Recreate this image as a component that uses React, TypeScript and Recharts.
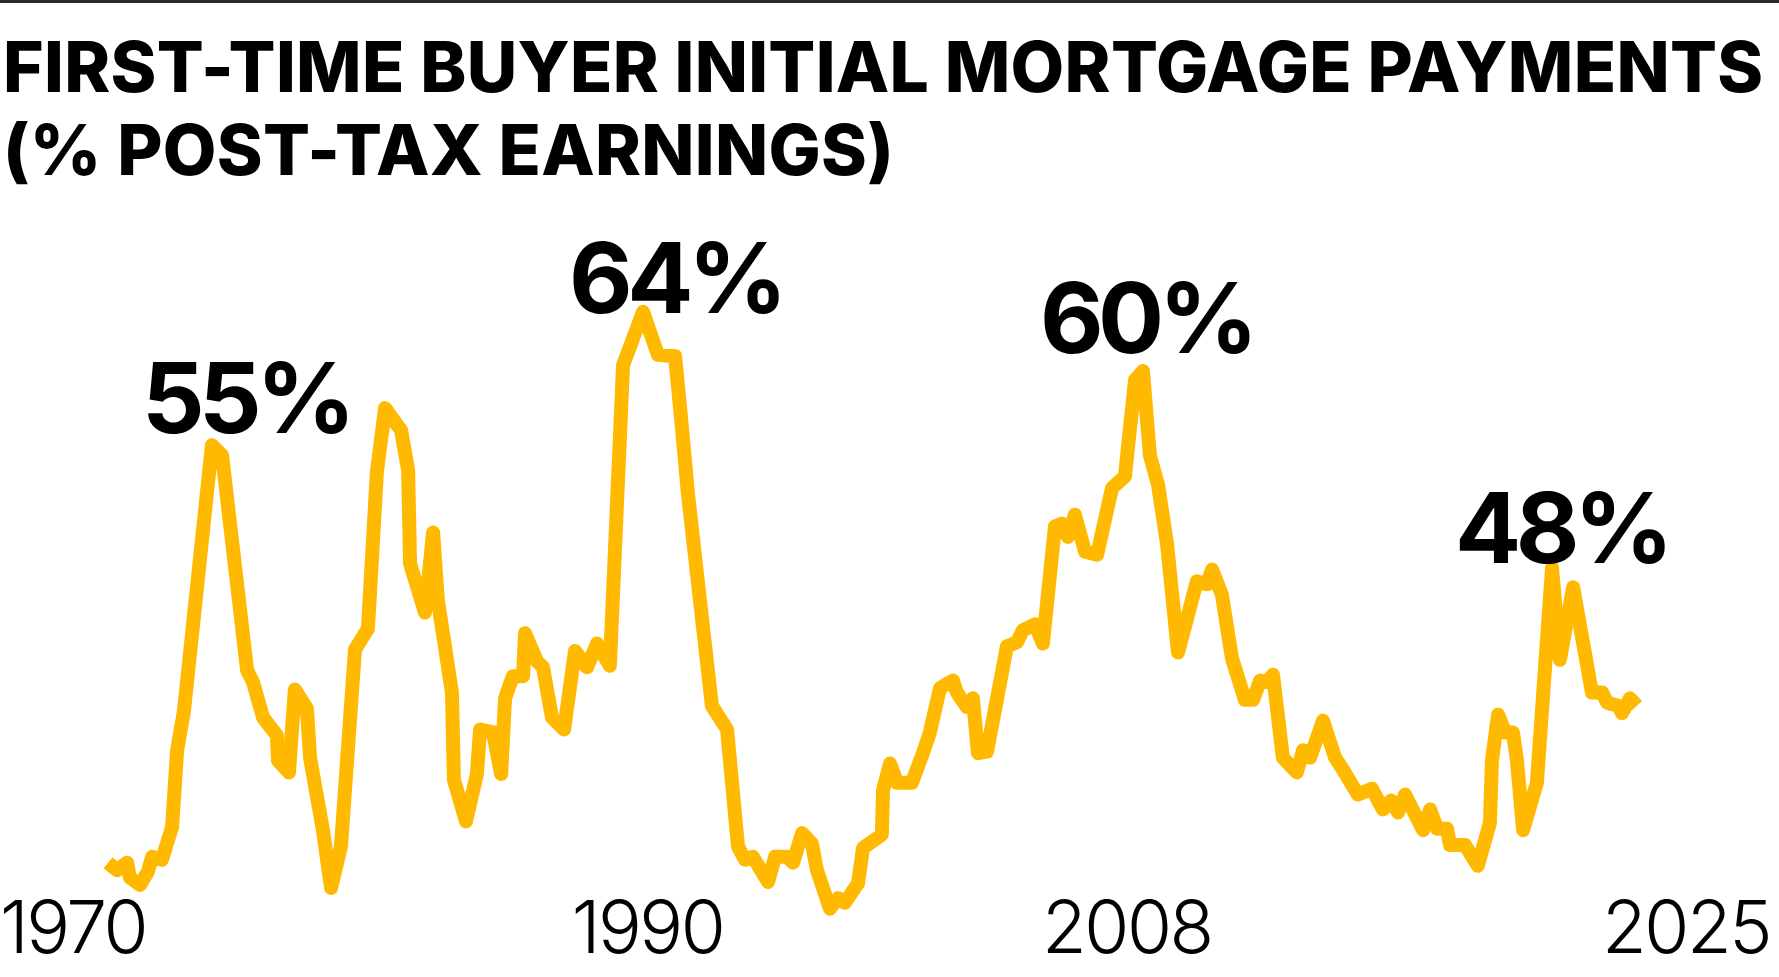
import React from "react";
import { LineChart, Line, XAxis, YAxis, ReferenceDot } from "recharts";

// Quarter-ish turning points (year, % of post-tax earnings)
const years = [
  1970.0, 1970.32, 1970.68, 1970.78, 1971.14, 1971.42, 1971.57, 1971.92, 1972.28, 1972.46,
  1972.7, 1973.7, 1974.06, 1974.95, 1975.16, 1975.52, 1976.01, 1976.05, 1976.44, 1976.65,
  1977.08, 1977.19, 1977.65, 1977.94, 1978.29, 1978.79, 1979.25, 1979.57, 1979.86, 1980.43,
  1980.68, 1980.75, 1981.28, 1981.57, 1981.74, 1982.24, 1982.31, 1982.74, 1983.13, 1983.24,
  1983.7, 1983.99, 1984.13, 1984.41, 1984.77, 1984.84, 1985.27, 1985.48, 1985.8, 1986.23,
  1986.62, 1987.05, 1987.4, 1987.86, 1988.33, 1989.04, 1989.57, 1990.18, 1990.43, 1990.64,
  1991.49, 1992.03, 1992.42, 1992.67, 1992.95, 1993.49, 1993.74, 1994.16, 1994.38, 1994.7,
  1995.05, 1995.23, 1995.69, 1995.98, 1996.23, 1996.69, 1996.87, 1997.54, 1997.58, 1997.83,
  1998.08, 1998.61, 1999.0, 1999.25, 1999.61, 2000.07, 2000.21, 2000.57, 2000.78, 2000.96,
  2001.28, 2001.99, 2002.35, 2002.56, 2002.99, 2003.27, 2003.7, 2003.95, 2004.16, 2004.41,
  2004.77, 2005.2, 2005.73, 2006.19, 2006.55, 2006.83, 2007.08, 2007.37, 2007.69, 2008.08,
  2008.75, 2009.11, 2009.29, 2009.64, 2010.0, 2010.46, 2010.75, 2011.0, 2011.25, 2011.46,
  2011.81, 2012.31, 2012.53, 2012.78, 2013.24, 2013.67, 2013.91, 2014.48, 2014.98, 2015.37,
  2015.66, 2015.91, 2016.16, 2016.8, 2017.05, 2017.3, 2017.65, 2017.76, 2018.29, 2018.75,
  2019.18, 2019.25, 2019.47, 2019.72, 2020.0, 2020.14, 2020.36, 2020.85, 2021.39, 2021.67,
  2022.14, 2022.81, 2023.17, 2023.35, 2023.74, 2023.88, 2024.16, 2024.41,
];

const payments = [
  26.8, 26.3, 26.8, 25.8, 25.3, 26.2, 27.2, 27.0, 29.2, 34.4,
  37.0, 55.0, 54.3, 39.8, 39.0, 36.6, 35.4, 33.7, 32.9, 38.5,
  37.2, 33.9, 29.0, 25.1, 27.9, 41.2, 42.6, 53.2, 57.5, 56.0,
  53.3, 47.0, 43.7, 49.1, 44.5, 38.3, 32.4, 29.6, 32.8, 35.8,
  35.6, 32.8, 37.9, 39.4, 39.4, 42.3, 40.4, 40.0, 36.6, 35.8,
  41.1, 40.0, 41.6, 40.1, 60.4, 64.0, 61.1, 61.0, 56.1, 51.7,
  37.4, 35.8, 27.9, 27.0, 27.2, 25.5, 27.2, 27.2, 26.8, 28.8,
  28.1, 26.3, 23.7, 24.4, 24.1, 25.4, 27.8, 28.7, 31.7, 33.5,
  32.2, 32.2, 34.2, 35.6, 38.6, 39.1, 38.3, 37.3, 37.9, 34.2,
  34.3, 41.4, 41.7, 42.5, 42.9, 41.6, 49.5, 49.7, 48.8, 50.3,
  47.8, 47.6, 52.1, 52.9, 59.4, 60.0, 54.3, 52.3, 48.3, 41.0,
  45.8, 45.6, 46.6, 44.9, 40.6, 37.8, 37.8, 39.1, 39.0, 39.5,
  33.9, 32.9, 34.4, 33.9, 36.4, 33.9, 33.2, 31.4, 31.8, 30.4,
  31.0, 30.2, 31.4, 29.0, 30.4, 29.1, 29.1, 28.0, 28.0, 26.6,
  29.5, 33.7, 36.8, 35.6, 35.6, 33.7, 29.0, 32.2, 46.7, 40.5,
  45.4, 38.3, 38.3, 37.6, 37.4, 36.9, 37.9, 37.4,
];

const tickYears = [1970, 1990, 2008, 2025];

const peakYears = [1973.7, 1989.04, 2006.83, 2021.39];
const peakTexts = ["55%", "64%", "60%", "48%"];

const titleLines = ["FIRST-TIME BUYER INITIAL MORTGAGE PAYMENTS", "(% POST-TAX EARNINGS)"];

const data = years.map((year, i) => ({ year, value: payments[i] }));

// layout / style (not data)
const W = 1779;
const H = 977;
const LINE_COLOR = "#FFB900";
const FONT = "Inter, 'Noto Sans', sans-serif";

const tickPlacement: Record<number, { anchor: "start" | "middle" | "end"; dx: number }> = {
  1970: { anchor: "start", dx: -108 },
  1990: { anchor: "middle", dx: -22.5 },
  2008: { anchor: "middle", dx: -49 },
  2025: { anchor: "end", dx: 116.5 },
};

const peakOffsets: Record<string, { dx: number; dy: number }> = {
  "55%": { dx: -70, dy: -12 },
  "64%": { dx: -74, dy: 1 },
  "60%": { dx: -103, dy: -18 },
  "48%": { dx: -97, dy: -5 },
};

const YearTick = (props: any) => {
  const { x, y, payload } = props;
  const p = tickPlacement[payload.value] || { anchor: "middle", dx: 0 };
  return (
    <text
      x={x + p.dx}
      y={y + 34}
      textAnchor={p.anchor}
      fill="#000"
      fontFamily={FONT}
      fontWeight={300}
      fontSize={73}
      letterSpacing={-2.5}
    >
      {payload.value}
    </text>
  );
};

const makePeakShape = (text: string) => (props: any) => {
  const o = peakOffsets[text];
  return (
    <text
      x={props.cx + o.dx}
      y={props.cy + o.dy}
      textAnchor="start"
      fill="#000"
      fontFamily={FONT}
      fontWeight={700}
      fontSize={98}
      letterSpacing={-5.5}
    >
      {text}
    </text>
  );
};

export default function App() {
  return (
    <div style={{ position: "relative", width: W, height: H, background: "#fff", overflow: "hidden" }}>
      <style>{"body{margin:0;background:#fff}"}</style>
      <div
        style={{
          position: "absolute",
          left: 0,
          top: 0,
          width: W,
          height: 3,
          background: "#2a2a2a",
        }}
      />
      <div
        style={{
          position: "absolute",
          left: 3,
          top: 26,
          fontFamily: FONT,
          fontWeight: 800,
          fontSize: 69.5,
          lineHeight: "83px",
          letterSpacing: "0.3px",
          color: "#000",
          whiteSpace: "nowrap",
          zIndex: 2,
        }}
      >
        {titleLines.map((t) => (
          <div key={t}>{t}</div>
        ))}
      </div>
      <LineChart
        width={W}
        height={H}
        data={data}
        margin={{ top: 223, right: 125.5, bottom: 0, left: 108 }}
      >
        <XAxis
          dataKey="year"
          type="number"
          domain={[1970, 2025]}
          ticks={tickYears}
          interval={0}
          axisLine={false}
          tickLine={false}
          tickSize={0}
          tickMargin={0}
          height={58}
          tick={<YearTick />}
        />
        <YAxis hide type="number" domain={[23, 70]} />
        <Line
          type="linear"
          dataKey="value"
          stroke={LINE_COLOR}
          strokeWidth={14}
          strokeLinejoin="round"
          strokeLinecap="butt"
          dot={false}
          activeDot={false}
          isAnimationActive={false}
        />
        {peakYears.map((yr, i) => (
          <ReferenceDot
            key={peakTexts[i]}
            x={yr}
            y={payments[years.indexOf(yr)]}
            r={0}
            ifOverflow="visible"
            shape={makePeakShape(peakTexts[i])}
          />
        ))}
      </LineChart>
    </div>
  );
}
